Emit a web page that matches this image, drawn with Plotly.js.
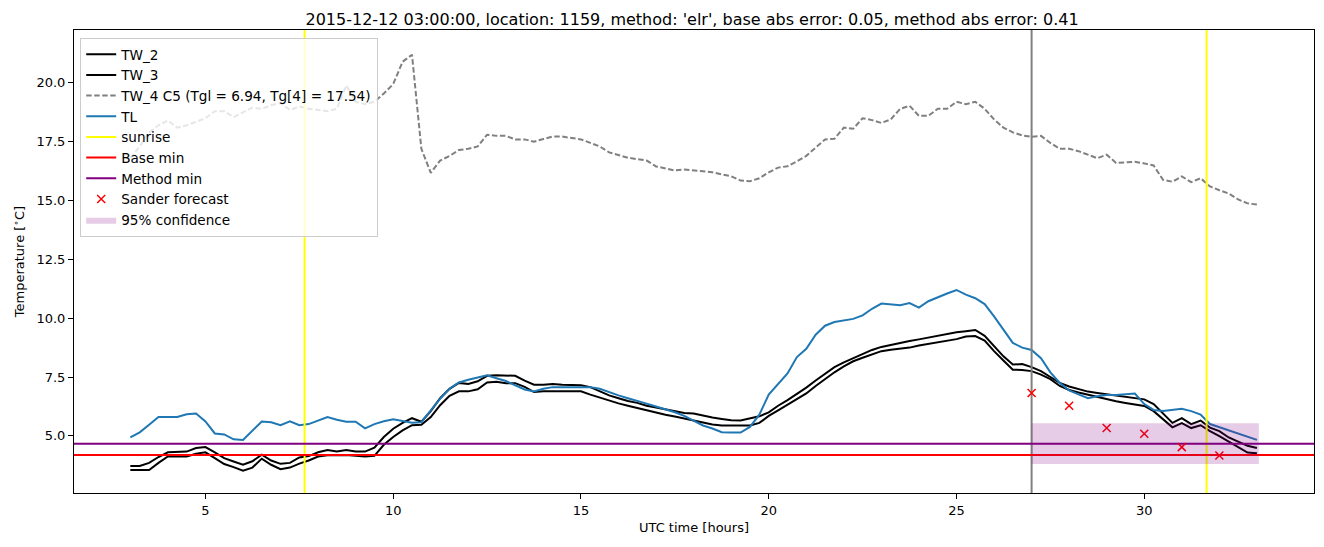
<!DOCTYPE html>
<html>
<head>
<meta charset="utf-8">
<script src="https://cdn.plot.ly/plotly-3.0.1.min.js"></script>
<style>
html,body{margin:0;padding:0;background:#fff;}
#chart{width:1324px;height:547px;}
</style>
</head>
<body>
<div id="chart"></div>
<script>
// time axis (UTC hours)
const hours = [3,3.25,3.5,3.75,4,4.25,4.5,4.75,5,5.25,5.5,5.75,6,6.25,6.5,6.75,7,7.25,7.5,7.75,8,8.25,8.5,8.75,9,9.25,9.5,9.75,10,10.25,10.5,10.75,11,11.25,11.5,11.75,12,12.25,12.5,12.75,13,13.25,13.5,13.75,14,14.25,14.5,14.75,15,15.25,15.5,15.75,16,16.25,16.5,16.75,17,17.25,17.5,17.75,18,18.25,18.5,18.75,19,19.25,19.5,19.75,20,20.25,20.5,20.75,21,21.25,21.5,21.75,22,22.25,22.5,22.75,23,23.25,23.5,23.75,24,24.25,24.5,24.75,25,25.25,25.5,25.75,26,26.25,26.5,26.75,27,27.25,27.5,27.75,28,28.25,28.5,28.75,29,29.25,29.5,29.75,30,30.25,30.5,30.75,31,31.25,31.5,31.75,32,32.25,32.5,32.75,33];

const tw2 = [3.72,3.72,3.85,4.1,4.3,4.33,4.33,4.48,4.52,4.3,4.05,3.91,3.77,3.92,4.2,3.95,3.81,3.85,4.08,4.14,4.3,4.4,4.33,4.4,4.33,4.33,4.5,4.95,5.3,5.55,5.75,5.6,6.05,6.6,7.0,7.25,7.2,7.32,7.55,7.58,7.55,7.55,7.35,7.17,7.17,7.2,7.17,7.17,7.15,7.07,6.9,6.72,6.6,6.48,6.4,6.28,6.2,6.12,6.05,5.97,5.95,5.86,5.78,5.72,5.66,5.65,5.75,5.83,6.0,6.28,6.52,6.78,7.05,7.35,7.62,7.92,8.12,8.3,8.5,8.65,8.78,8.87,8.97,9.03,9.1,9.18,9.27,9.35,9.4,9.45,9.5,9.25,8.8,8.38,8.03,8.05,7.92,7.75,7.5,7.25,7.1,6.98,6.88,6.82,6.76,6.7,6.64,6.6,6.55,6.35,5.95,5.55,5.75,5.5,5.65,5.35,5.2,4.93,4.75,4.58,4.48];

const tw3 = [3.55,3.55,3.55,3.85,4.12,4.12,4.12,4.24,4.3,4.05,3.8,3.67,3.52,3.65,4.03,3.77,3.58,3.65,3.82,3.95,4.12,4.17,4.19,4.19,4.15,4.12,4.15,4.62,4.95,5.23,5.45,5.47,5.8,6.3,6.7,6.89,6.89,6.98,7.27,7.3,7.24,7.24,7.08,6.86,6.89,6.89,6.89,6.89,6.89,6.75,6.62,6.48,6.38,6.28,6.18,6.08,5.98,5.9,5.82,5.74,5.66,5.55,5.48,5.44,5.44,5.44,5.44,5.55,5.85,6.08,6.33,6.57,6.8,7.12,7.42,7.7,7.95,8.17,8.32,8.47,8.6,8.66,8.7,8.75,8.84,8.9,8.97,9.05,9.11,9.22,9.24,9.05,8.6,8.2,7.81,7.8,7.75,7.6,7.41,7.12,6.95,6.84,6.75,6.63,6.55,6.47,6.4,6.33,6.27,6.05,5.7,5.36,5.54,5.33,5.45,5.2,4.99,4.75,4.52,4.29,4.26];

const tw4 = [16.8,17.3,17.9,18.2,18.4,18.1,18.2,18.35,18.5,18.8,18.8,18.55,18.75,18.95,18.9,19.05,19.15,18.85,19.0,18.9,18.85,18.8,18.9,19.9,19.2,19.1,19.2,19.55,19.95,20.9,21.2,17.2,16.18,16.7,16.9,17.15,17.2,17.3,17.8,17.75,17.75,17.6,17.6,17.5,17.62,17.72,17.72,17.66,17.6,17.45,17.3,17.05,16.93,16.82,16.76,16.7,16.45,16.35,16.28,16.32,16.3,16.25,16.2,16.1,16.03,15.85,15.82,15.95,16.2,16.4,16.46,16.67,16.9,17.25,17.6,17.63,18.1,18.05,18.5,18.42,18.3,18.45,18.9,19.03,18.6,18.6,18.9,18.9,19.2,19.1,19.2,18.9,18.45,18.1,17.9,17.77,17.71,17.75,17.45,17.2,17.2,17.1,16.95,16.8,16.95,16.6,16.62,16.65,16.58,16.49,15.88,15.8,16.03,15.78,15.95,15.6,15.44,15.3,15.05,14.88,14.83];

const tl = [4.93,5.15,5.47,5.8,5.8,5.8,5.92,5.95,5.61,5.1,5.06,4.85,4.82,5.2,5.61,5.58,5.45,5.62,5.45,5.5,5.65,5.8,5.68,5.6,5.6,5.32,5.5,5.62,5.7,5.62,5.56,5.58,6.1,6.58,7.0,7.27,7.38,7.48,7.57,7.45,7.33,7.15,6.97,6.89,7.0,7.07,7.07,7.07,7.1,7.07,7.0,6.85,6.72,6.6,6.5,6.37,6.25,6.13,6.0,5.85,5.66,5.44,5.31,5.15,5.14,5.14,5.38,5.9,6.75,7.18,7.65,8.35,8.7,9.3,9.68,9.84,9.9,9.97,10.12,10.4,10.62,10.58,10.55,10.64,10.45,10.72,10.9,11.05,11.2,11.0,10.85,10.6,10.08,9.5,8.95,8.75,8.65,8.3,7.7,7.25,6.93,6.76,6.6,6.68,6.74,6.74,6.78,6.8,6.35,6.1,6.06,6.12,6.15,6.05,5.9,5.5,5.36,5.25,5.1,4.95,4.83];

// reference markers
const sunriseHours = [7.64, 31.66];
const forecastTime = 27;
const baseMin = 4.19;
const methodMin = 4.66;
const sanderHours = [27, 28, 29, 30, 31, 32];
const sanderValues = [6.82, 6.28, 5.33, 5.09, 4.52, 4.16];
const confHours = [27, 33.05];
const confBounds = [3.8, 5.54];

const xRange = [1.5, 34.52];
const yRange = [2.57, 22.25];

const traces = [
  {x: hours, y: tw2, name: 'TW_2', mode: 'lines', line: {color: '#000000', width: 2}},
  {x: hours, y: tw3, name: 'TW_3', mode: 'lines', line: {color: '#000000', width: 2}},
  {x: hours, y: tw4, name: 'TW_4 C5 (Tgl = 6.94, Tg[4] = 17.54)', mode: 'lines', line: {color: '#808080', width: 2, dash: '5.5px,2.5px'}},
  {x: hours, y: tl, name: 'TL', mode: 'lines', line: {color: '#1f77b4', width: 2}},
  {x: [sunriseHours[0], sunriseHours[0], null, sunriseHours[1], sunriseHours[1]],
   y: [yRange[0], yRange[1], null, yRange[0], yRange[1]],
   name: 'sunrise', mode: 'lines', line: {color: '#ffff00', width: 2}},
  {x: [forecastTime, forecastTime], y: [yRange[0], yRange[1]], mode: 'lines', showlegend: false,
   line: {color: '#808080', width: 2}, hoverinfo: 'skip'},
  {x: [xRange[0], xRange[1]], y: [baseMin, baseMin], name: 'Base min', mode: 'lines', line: {color: '#ff0000', width: 2}},
  {x: [xRange[0], xRange[1]], y: [methodMin, methodMin], name: 'Method min', mode: 'lines', line: {color: '#800080', width: 2}},
  {x: sanderHours, y: sanderValues, name: 'Sander forecast', mode: 'markers',
   marker: {symbol: 'x-thin', size: 8, color: '#ff0000', line: {color: '#ff0000', width: 1.5}}},
  {x: [confHours[0], confHours[1], confHours[1], confHours[0], confHours[0]],
   y: [confBounds[0], confBounds[0], confBounds[1], confBounds[1], confBounds[0]],
   name: '95% confidence', mode: 'lines', fill: 'toself', fillcolor: 'rgba(128,0,128,0.2)',
   line: {width: 0, color: 'rgba(128,0,128,0)'}}
];

const axisCommon = {
  showline: true, mirror: true, linecolor: '#000', linewidth: 1,
  ticks: 'outside', ticklen: 5, tickwidth: 1, tickcolor: '#000',
  showgrid: false, zeroline: false,
  tickfont: {family: 'DejaVu Sans', size: 13, color: '#000'}
};

const layout = {
  width: 1324, height: 547,
  paper_bgcolor: '#fff', plot_bgcolor: '#fff',
  margin: {l: 74, r: 10, t: 30, b: 54},
  font: {family: 'DejaVu Sans', color: '#000'},
  title: {text: "2015-12-12 03:00:00, location: 1159, method: 'elr', base abs error: 0.05, method abs error: 0.41",
          font: {family: 'DejaVu Sans', size: 16, color: '#000'},
          x: 0.5227, xanchor: 'center', y: 0.965, yanchor: 'middle'},
  xaxis: Object.assign({}, axisCommon, {
    range: xRange, tickvals: [5, 10, 15, 20, 25, 30],
    title: {text: 'UTC time [hours]', font: {family: 'DejaVu Sans', size: 13, color: '#000'}, standoff: 6}
  }),
  yaxis: Object.assign({}, axisCommon, {
    range: yRange, tickvals: [5, 7.5, 10, 12.5, 15, 17.5, 20], ticktext: ['5.0','7.5','10.0','12.5','15.0','17.5','20.0'],
    title: {text: 'Temperature [<sup>∘</sup>C]', font: {family: 'DejaVu Sans', size: 13, color: '#000'}, standoff: 8}
  }),
  showlegend: true,
  legend: {
    x: 0.005, y: 0.983, xanchor: 'left', yanchor: 'top',
    bgcolor: 'rgba(255,255,255,0.8)', bordercolor: '#cccccc', borderwidth: 1,
    font: {family: 'DejaVu Sans', size: 13.6, color: '#000'},
    itemwidth: 30, tracegroupgap: 0
  }
};

Plotly.newPlot('chart', traces, layout, {staticPlot: true, displayModeBar: false});
</script>
</body>
</html>
